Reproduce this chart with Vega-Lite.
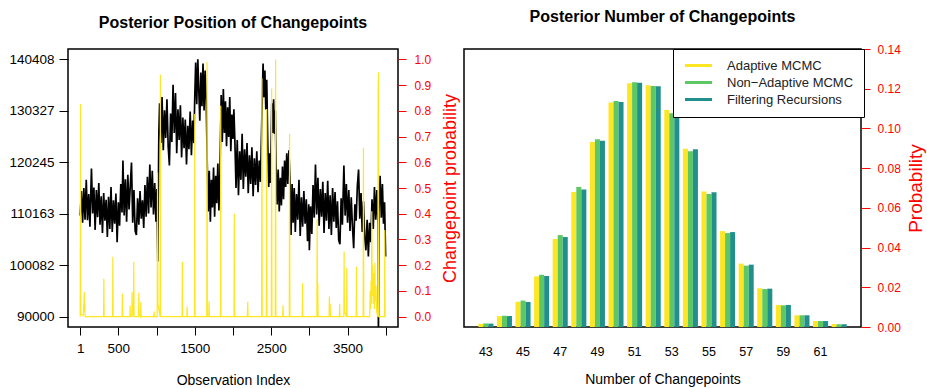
{
  "$schema": "https://vega.github.io/schema/vega-lite/v6.json",
  "padding": {"left": 8, "right": 0, "top": 8, "bottom": 0},
  "background": "white",
  "config": {
    "font": "Liberation Sans",
    "view": {"stroke": "black", "strokeWidth": 1.5},
    "axis": {"grid": false, "domain": false, "labelColor": "black", "titleColor": "black", "tickColor": "black", "titleFontWeight": "normal", "labelFlush": false},
    "title": {"font": "Liberation Sans", "fontSize": 16, "fontWeight": "bold", "color": "black", "offset": 18}
  },
  "datasets": {
    "series": [
      {"i":1,"v":109800},{"i":16,"v":114600},{"i":32,"v":108400},{"i":48,"v":115200},{"i":64,"v":109000},{"i":80,"v":116800},{"i":96,"v":108900},{"i":112,"v":114000},{"i":128,"v":107600},{"i":148,"v":119000},{"i":164,"v":110200},{"i":180,"v":115300},{"i":196,"v":107000},{"i":212,"v":114800},{"i":228,"v":109500},{"i":244,"v":116200},{"i":260,"v":108000},{"i":276,"v":113600},{"i":292,"v":106400},{"i":308,"v":114200},{"i":324,"v":108800},{"i":340,"v":112900},{"i":356,"v":105600},{"i":372,"v":113500},{"i":388,"v":107200},{"i":404,"v":115400},{"i":420,"v":106600},{"i":436,"v":112800},{"i":452,"v":108200},{"i":468,"v":114100},{"i":484,"v":104600},{"i":500,"v":112400},{"i":516,"v":107800},{"i":532,"v":116000},{"i":548,"v":110400},{"i":560,"v":120600},{"i":576,"v":109800},{"i":592,"v":116900},{"i":608,"v":108600},{"i":624,"v":117800},{"i":640,"v":111000},{"i":656,"v":115600},{"i":672,"v":120200},{"i":688,"v":108400},{"i":704,"v":114800},{"i":720,"v":106800},{"i":736,"v":106000},{"i":752,"v":113200},{"i":768,"v":108000},{"i":784,"v":114600},{"i":800,"v":109200},{"i":816,"v":112800},{"i":832,"v":107400},{"i":848,"v":115800},{"i":864,"v":109600},{"i":880,"v":117400},{"i":896,"v":110200},{"i":912,"v":119800},{"i":928,"v":111400},{"i":944,"v":118600},{"i":960,"v":110000},{"i":976,"v":116200},{"i":992,"v":108600},{"i":1004,"v":115000},{"i":1016,"v":100800},{"i":1030,"v":126000},
      {"i":1040,"v":131800},{"i":1056,"v":124000},{"i":1072,"v":133000},{"i":1088,"v":122600},{"i":1104,"v":130400},{"i":1120,"v":125000},{"i":1136,"v":132600},{"i":1152,"v":123400},{"i":1168,"v":119600},{"i":1184,"v":129800},{"i":1200,"v":124200},{"i":1216,"v":135400},{"i":1232,"v":126000},{"i":1248,"v":133800},{"i":1264,"v":122000},{"i":1280,"v":130600},{"i":1296,"v":124600},{"i":1312,"v":131400},{"i":1328,"v":121200},{"i":1344,"v":129000},{"i":1360,"v":123000},{"i":1376,"v":128600},{"i":1392,"v":119800},{"i":1408,"v":127400},{"i":1424,"v":122800},{"i":1440,"v":130200},{"i":1456,"v":121600},{"i":1472,"v":128400},{"i":1488,"v":124000},
      {"i":1500,"v":133000},{"i":1512,"v":139800},{"i":1526,"v":131600},{"i":1540,"v":140400},{"i":1554,"v":133800},{"i":1566,"v":128400},{"i":1580,"v":137800},{"i":1594,"v":131200},{"i":1608,"v":139600},{"i":1622,"v":130400},{"i":1636,"v":138200},{"i":1650,"v":132600},
      {"i":1662,"v":121000},{"i":1676,"v":110600},{"i":1690,"v":118600},{"i":1704,"v":108600},{"i":1718,"v":116800},{"i":1732,"v":111400},{"i":1746,"v":119200},{"i":1760,"v":109600},{"i":1774,"v":117600},{"i":1788,"v":112200},{"i":1802,"v":120000},{"i":1816,"v":110800},{"i":1830,"v":118400},
      {"i":1846,"v":133400},{"i":1860,"v":124200},{"i":1874,"v":134600},{"i":1888,"v":126000},{"i":1902,"v":132200},{"i":1916,"v":123400},{"i":1930,"v":131000},{"i":1944,"v":125200},{"i":1958,"v":133000},{"i":1972,"v":122400},{"i":1986,"v":129600},{"i":2000,"v":124800},{"i":2012,"v":130600},
      {"i":2024,"v":125000},{"i":2040,"v":115200},{"i":2056,"v":124600},{"i":2072,"v":113800},{"i":2088,"v":122400},{"i":2104,"v":116800},{"i":2120,"v":125800},{"i":2136,"v":115000},{"i":2152,"v":122800},{"i":2168,"v":117400},{"i":2184,"v":124000},{"i":2200,"v":114200},{"i":2216,"v":121600},{"i":2232,"v":116000},{"i":2248,"v":123200},{"i":2264,"v":113600},{"i":2280,"v":121000},{"i":2296,"v":115800},{"i":2312,"v":122400},{"i":2328,"v":114400},{"i":2344,"v":120600},{"i":2360,"v":116400},
      {"i":2382,"v":131800},{"i":2394,"v":139600},{"i":2406,"v":133000},{"i":2418,"v":138200},{"i":2430,"v":130600},{"i":2442,"v":136400},
      {"i":2456,"v":123600},{"i":2468,"v":115400},{"i":2480,"v":122000},{"i":2492,"v":116200},
      {"i":2508,"v":131800},{"i":2520,"v":126000},{"i":2532,"v":132600},{"i":2544,"v":125800},{"i":2554,"v":130400},
      {"i":2564,"v":119600},{"i":2578,"v":112000},{"i":2592,"v":118800},{"i":2606,"v":110600},{"i":2620,"v":117200},{"i":2634,"v":111800},{"i":2648,"v":119400},{"i":2662,"v":113000},{"i":2676,"v":120600},{"i":2690,"v":115400},{"i":2704,"v":122000},{"i":2718,"v":116000},{"i":2732,"v":122600},{"i":2746,"v":117000},
      {"i":2760,"v":106000},{"i":2774,"v":116000},{"i":2788,"v":108400},{"i":2802,"v":115200},{"i":2816,"v":106600},{"i":2832,"v":114000},{"i":2848,"v":109000},{"i":2864,"v":116800},{"i":2880,"v":105800},{"i":2896,"v":113400},{"i":2912,"v":107600},{"i":2928,"v":114600},{"i":2944,"v":108200},{"i":2960,"v":113000},{"i":2976,"v":104800},{"i":2992,"v":112000},{"i":3000,"v":103000},{"i":3016,"v":111600},{"i":3032,"v":106200},{"i":3048,"v":115800},{"i":3064,"v":109400},{"i":3080,"v":119800},{"i":3096,"v":110000},{"i":3112,"v":117200},{"i":3128,"v":107800},{"i":3144,"v":115000},{"i":3160,"v":109600},{"i":3176,"v":116400},{"i":3192,"v":106400},{"i":3208,"v":114200},{"i":3224,"v":108800},{"i":3240,"v":116600},{"i":3256,"v":107200},{"i":3272,"v":113800},{"i":3288,"v":106000},{"i":3304,"v":115200},{"i":3320,"v":108600},{"i":3336,"v":114400},{"i":3352,"v":107400},{"i":3368,"v":112600},{"i":3384,"v":105000},{"i":3400,"v":104200},{"i":3416,"v":113200},{"i":3432,"v":108000},{"i":3452,"v":119600},{"i":3468,"v":109800},{"i":3484,"v":116000},{"i":3500,"v":108400},{"i":3516,"v":114800},{"i":3532,"v":106800},{"i":3548,"v":113400},{"i":3564,"v":107600},{"i":3580,"v":103400},{"i":3596,"v":112000},{"i":3612,"v":108800},{"i":3628,"v":115600},{"i":3644,"v":118800},{"i":3660,"v":109200},{"i":3676,"v":114200},{"i":3692,"v":106600},{"i":3708,"v":112600},{"i":3724,"v":105600},{"i":3740,"v":103000},{"i":3756,"v":109000},{"i":3772,"v":101800},{"i":3788,"v":108400},{"i":3804,"v":104600},{"i":3820,"v":113000},{"i":3836,"v":107200},{"i":3852,"v":115400},{"i":3868,"v":109000},{"i":3884,"v":114800},{"i":3898,"v":108000},{"i":3904,"v":86000},{"i":3910,"v":110400},{"i":3926,"v":117600},{"i":3942,"v":109400},{"i":3956,"v":116000},{"i":3970,"v":108200},{"i":3984,"v":112400},{"i":3998,"v":101800}
    ],
    "prob": [
      {"i":1,"p":0},{"i":5,"p":0.826},{"i":9,"p":0.01},{"i":40,"p":0.005},{"i":50,"p":0.06},{"i":54,"p":0.097},{"i":58,"p":0.02},{"i":62,"p":0.05},{"i":66,"p":0},{"i":306,"p":0},{"i":310,"p":0.147},{"i":314,"p":0},{"i":424,"p":0},{"i":428,"p":0.233},{"i":432,"p":0},{"i":548,"p":0},{"i":553,"p":0.089},{"i":558,"p":0},{"i":650,"p":0},{"i":654,"p":0.043},{"i":658,"p":0},{"i":676,"p":0},{"i":680,"p":0.097},{"i":684,"p":0.02},{"i":698,"p":0},{"i":702,"p":0.213},{"i":706,"p":0},{"i":764,"p":0},{"i":768,"p":0.093},{"i":772,"p":0.01},{"i":790,"p":0},{"i":794,"p":0.058},{"i":798,"p":0},{"i":964,"p":0},{"i":968,"p":0.02},{"i":972,"p":0},{"i":1008,"p":0},{"i":1013,"p":0.56},{"i":1018,"p":0.05},{"i":1046,"p":0},{"i":1050,"p":0.94},{"i":1054,"p":0},{"i":1334,"p":0},{"i":1338,"p":0.213},{"i":1342,"p":0},{"i":1396,"p":0},{"i":1400,"p":0.04},{"i":1404,"p":0},{"i":1496,"p":0},{"i":1500,"p":0.787},{"i":1504,"p":0},{"i":1657,"p":0},{"i":1661,"p":0.99},{"i":1665,"p":0},{"i":1683,"p":0},{"i":1687,"p":0.06},{"i":1691,"p":0},{"i":1836,"p":0},{"i":1840,"p":0.82},{"i":1844,"p":0},{"i":2014,"p":0},{"i":2018,"p":0.4},{"i":2022,"p":0},{"i":2188,"p":0},{"i":2193,"p":0.058},{"i":2198,"p":0},{"i":2375,"p":0},{"i":2379,"p":0.926},{"i":2383,"p":0},{"i":2437,"p":0},{"i":2441,"p":0.807},{"i":2445,"p":0},{"i":2502,"p":0},{"i":2506,"p":0.887},{"i":2510,"p":0},{"i":2554,"p":0},{"i":2558,"p":0.999},{"i":2562,"p":0},{"i":2650,"p":0},{"i":2655,"p":0.044},{"i":2660,"p":0},{"i":2737,"p":0},{"i":2741,"p":0.71},{"i":2745,"p":0},{"i":2907,"p":0},{"i":2911,"p":0.13},{"i":2915,"p":0},{"i":3098,"p":0},{"i":3102,"p":0.38},{"i":3106,"p":0.04},{"i":3110,"p":0.13},{"i":3114,"p":0},{"i":3258,"p":0},{"i":3262,"p":0.078},{"i":3266,"p":0.02},{"i":3272,"p":0.05},{"i":3276,"p":0},{"i":3392,"p":0},{"i":3396,"p":0.05},{"i":3400,"p":0},{"i":3451,"p":0},{"i":3455,"p":0.253},{"i":3459,"p":0.02},{"i":3486,"p":0},{"i":3490,"p":0.19},{"i":3494,"p":0},{"i":3613,"p":0},{"i":3617,"p":0.194},{"i":3621,"p":0},{"i":3704,"p":0},{"i":3708,"p":0.655},{"i":3712,"p":0},{"i":3790,"p":0},{"i":3796,"p":0.1},{"i":3802,"p":0.03},{"i":3808,"p":0.14},{"i":3812,"p":0.05},{"i":3817,"p":0.41},{"i":3822,"p":0.08},{"i":3830,"p":0.2},{"i":3836,"p":0.05},{"i":3844,"p":0.17},{"i":3850,"p":0.03},{"i":3858,"p":0.21},{"i":3864,"p":0.06},{"i":3872,"p":0.12},{"i":3880,"p":0.02},{"i":3896,"p":0},{"i":3900,"p":0.866},{"i":3904,"p":0.95},{"i":3908,"p":0},{"i":3983,"p":0},{"i":3987,"p":0.337},{"i":3991,"p":0},{"i":4000,"p":0}
    ],
    "bars": [
      {"n":43,"m":"Adaptive MCMC","p":0.0016},{"n":43,"m":"Non−Adaptive MCMC","p":0.0018},{"n":43,"m":"Filtering Recursions","p":0.0017},
      {"n":44,"m":"Adaptive MCMC","p":0.0055},{"n":44,"m":"Non−Adaptive MCMC","p":0.0057},{"n":44,"m":"Filtering Recursions","p":0.0055},
      {"n":45,"m":"Adaptive MCMC","p":0.0127},{"n":45,"m":"Non−Adaptive MCMC","p":0.0133},{"n":45,"m":"Filtering Recursions","p":0.0126},
      {"n":46,"m":"Adaptive MCMC","p":0.0255},{"n":46,"m":"Non−Adaptive MCMC","p":0.0263},{"n":46,"m":"Filtering Recursions","p":0.0257},
      {"n":47,"m":"Adaptive MCMC","p":0.0443},{"n":47,"m":"Non−Adaptive MCMC","p":0.0463},{"n":47,"m":"Filtering Recursions","p":0.0453},
      {"n":48,"m":"Adaptive MCMC","p":0.068},{"n":48,"m":"Non−Adaptive MCMC","p":0.0705},{"n":48,"m":"Filtering Recursions","p":0.0693},
      {"n":49,"m":"Adaptive MCMC","p":0.0932},{"n":49,"m":"Non−Adaptive MCMC","p":0.0945},{"n":49,"m":"Filtering Recursions","p":0.0938},
      {"n":50,"m":"Adaptive MCMC","p":0.1131},{"n":50,"m":"Non−Adaptive MCMC","p":0.1138},{"n":50,"m":"Filtering Recursions","p":0.1133},
      {"n":51,"m":"Adaptive MCMC","p":0.1227},{"n":51,"m":"Non−Adaptive MCMC","p":0.1232},{"n":51,"m":"Filtering Recursions","p":0.123},
      {"n":52,"m":"Adaptive MCMC","p":0.1217},{"n":52,"m":"Non−Adaptive MCMC","p":0.1214},{"n":52,"m":"Filtering Recursions","p":0.1212},
      {"n":53,"m":"Adaptive MCMC","p":0.1093},{"n":53,"m":"Non−Adaptive MCMC","p":0.1076},{"n":53,"m":"Filtering Recursions","p":0.1086},
      {"n":54,"m":"Adaptive MCMC","p":0.0898},{"n":54,"m":"Non−Adaptive MCMC","p":0.0885},{"n":54,"m":"Filtering Recursions","p":0.0895},
      {"n":55,"m":"Adaptive MCMC","p":0.0683},{"n":55,"m":"Non−Adaptive MCMC","p":0.067},{"n":55,"m":"Filtering Recursions","p":0.0678},
      {"n":56,"m":"Adaptive MCMC","p":0.0483},{"n":56,"m":"Non−Adaptive MCMC","p":0.0473},{"n":56,"m":"Filtering Recursions","p":0.0478},
      {"n":57,"m":"Adaptive MCMC","p":0.0319},{"n":57,"m":"Non−Adaptive MCMC","p":0.0309},{"n":57,"m":"Filtering Recursions","p":0.0314},
      {"n":58,"m":"Adaptive MCMC","p":0.0195},{"n":58,"m":"Non−Adaptive MCMC","p":0.0191},{"n":58,"m":"Filtering Recursions","p":0.0193},
      {"n":59,"m":"Adaptive MCMC","p":0.0111},{"n":59,"m":"Non−Adaptive MCMC","p":0.0109},{"n":59,"m":"Filtering Recursions","p":0.0111},
      {"n":60,"m":"Adaptive MCMC","p":0.0059},{"n":60,"m":"Non−Adaptive MCMC","p":0.0059},{"n":60,"m":"Filtering Recursions","p":0.0059},
      {"n":61,"m":"Adaptive MCMC","p":0.003},{"n":61,"m":"Non−Adaptive MCMC","p":0.003},{"n":61,"m":"Filtering Recursions","p":0.003},
      {"n":62,"m":"Adaptive MCMC","p":0.0015},{"n":62,"m":"Non−Adaptive MCMC","p":0.0014},{"n":62,"m":"Filtering Recursions","p":0.0014}
    ]
  },
  "spacing": 2,
  "resolve": {"scale": {"color": "independent", "stroke": "independent"}, "legend": {"color": "independent", "stroke": "independent"}},
  "hconcat": [
    {
      "width": 330,
      "height": 278,
      "title": {"text": "Posterior Position of Changepoints"},
      "layer": [
        {
          "data": {"name": "series"},
          "mark": {"type": "line", "color": "black", "strokeWidth": 1.7, "clip": true},
          "encoding": {
            "x": {"field": "i", "type": "quantitative",
              "scale": {"domain": [-159, 4160], "nice": false, "zero": false},
              "axis": {"title": "Observation Index", "values": [1, 500, 1000, 1500, 2000, 2500, 3000, 3500, 4000], "format": "d",
                "labelExpr": "(datum.value == 1 || datum.value == 500 || datum.value == 1500 || datum.value == 2500 || datum.value == 3500) ? datum.label : ''",
                "tickSize": 8, "labelFontSize": 13.5, "labelPadding": 6, "titleFontSize": 14, "titlePadding": 19}},
            "y": {"field": "v", "type": "quantitative",
              "scale": {"domain": [87984, 142424], "nice": false, "zero": false},
              "axis": {"title": null, "values": [90000, 100082, 110163, 120245, 130327, 140408], "format": "d",
                "tickSize": 9, "labelFontSize": 13.5, "labelPadding": 5}}
          }
        },
        {
          "data": {"name": "prob"},
          "mark": {"type": "line", "color": "#FDE725", "strokeWidth": 1.2, "clip": true},
          "encoding": {
            "x": {"field": "i", "type": "quantitative"},
            "y": {"field": "p", "type": "quantitative",
              "scale": {"domain": [-0.04, 1.04], "nice": false, "zero": false},
              "axis": {"orient": "right", "title": "Changepoint probability", "values": [0, 0.1, 0.2, 0.3, 0.4, 0.5, 0.6, 0.7, 0.8, 0.9, 1.0], "format": ".1f",
                "tickSize": 8, "tickColor": "red", "labelColor": "red", "labelFontSize": 12, "labelPadding": 8,
                "titleColor": "red", "titleFontSize": 18, "titleAngle": 270, "titleBaseline": "top", "titlePadding": 11}}
          }
        }
      ],
      "resolve": {"scale": {"y": "independent"}}
    },
    {
      "width": 397,
      "height": 278,
      "title": {"text": "Posterior Number of Changepoints"},
      "data": {"name": "bars"},
      "mark": {"type": "bar", "strokeWidth": 0},
      "encoding": {
        "x": {"field": "n", "type": "ordinal",
          "scale": {"paddingInner": 0.19, "paddingOuter": 0.77},
          "axis": {"title": "Number of Changepoints", "labelAngle": 0, "ticks": false,
            "labelExpr": "datum.value % 2 == 1 ? datum.label : ''",
            "labelFontSize": 12.5, "labelPadding": 18, "titleFontSize": 14, "titlePadding": 15}},
        "xOffset": {"field": "m", "type": "nominal", "sort": ["Adaptive MCMC", "Non−Adaptive MCMC", "Filtering Recursions"],
          "scale": {"paddingInner": 0, "paddingOuter": 0}},
        "y": {"field": "p", "type": "quantitative",
          "scale": {"domain": [0, 0.14], "nice": false},
          "axis": {"orient": "right", "title": "Probability", "values": [0, 0.02, 0.04, 0.06, 0.08, 0.1, 0.12, 0.14], "format": ".2f",
            "tickSize": 9, "tickColor": "red", "labelColor": "red", "labelFontSize": 12, "labelPadding": 7,
            "titleColor": "red", "titleFontSize": 19, "titleAngle": 270, "titleBaseline": "top", "titlePadding": 6}},
        "color": {"field": "m", "type": "nominal", "sort": ["Adaptive MCMC", "Non−Adaptive MCMC", "Filtering Recursions"],
          "scale": {"domain": ["Adaptive MCMC", "Non−Adaptive MCMC", "Filtering Recursions"], "range": ["#FDE725", "#5DC863", "#21908C"]},
          "legend": {"title": null, "orient": "none", "legendX": 209, "legendY": 0, "strokeColor": "black", "fillColor": "white",
            "padding": 10, "symbolType": "M-1,0H5", "symbolSize": 81, "symbolStrokeWidth": 3, "labelFontSize": 13, "labelOffset": 31,
            "rowPadding": 3, "labelColor": "#222222"}},
        "stroke": {"field": "m", "type": "nominal", "sort": ["Adaptive MCMC", "Non−Adaptive MCMC", "Filtering Recursions"],
          "scale": {"domain": ["Adaptive MCMC", "Non−Adaptive MCMC", "Filtering Recursions"], "range": ["#FDE725", "#5DC863", "#21908C"]},
          "legend": {"title": null, "orient": "none", "legendX": 209, "legendY": 0, "strokeColor": "black", "fillColor": "white",
            "padding": 10, "symbolType": "M-1,0H5", "symbolSize": 81, "symbolStrokeWidth": 3, "labelFontSize": 13, "labelOffset": 31,
            "rowPadding": 3, "labelColor": "#222222"}}
      }
    }
  ]
}
